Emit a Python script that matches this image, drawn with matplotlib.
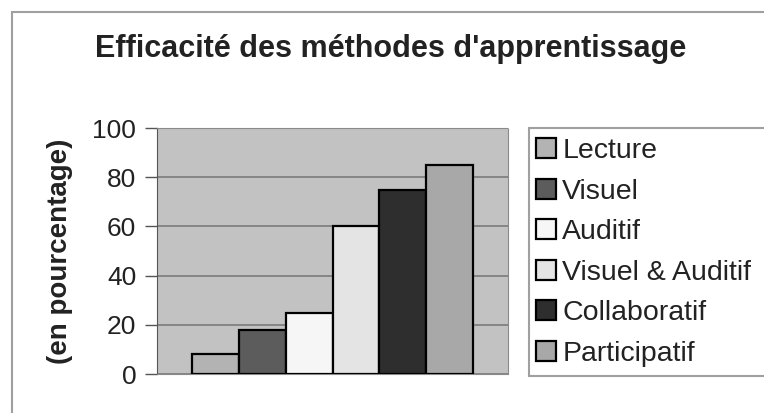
import numpy as np
import matplotlib.pyplot as plt
from matplotlib.patches import Rectangle

plt.rcParams['font.family'] = ['Liberation Sans', 'DejaVu Sans']

# data
methods = ['Lecture', 'Visuel', 'Auditif', 'Visuel & Auditif', 'Collaboratif', 'Participatif']
values = [8, 18, 25, 60, 75, 85]
yticks = [0, 20, 40, 60, 80, 100]

bar_colors = ['#b3b3b3', '#5c5c5c', '#f6f6f6', '#e4e4e4', '#2e2e2e', '#a8a8a8']

W, H = 764, 413
fig = plt.figure(figsize=(W/100, H/100), dpi=100)

# outer chart frame (runs off right and bottom)
fig.patches.append(Rectangle((12/W, -0.05), 1.0, 1 - 12/H + 0.05, transform=fig.transFigure,
                             fill=False, edgecolor='#a0a0a0', lw=1.5))

ax = fig.add_axes([157/W, 1 - 374/H, (508-157)/W, (374-128)/H])
ax.set_facecolor('#c2c2c2')

x = np.arange(len(methods))
bars = ax.bar(x, values, width=1.0, color=bar_colors, edgecolor='black', lw=1.6, zorder=3)

ax.set_xlim(-0.5 - 0.75, 5.5 + 0.75)
ax.set_ylim(0, 100)
ax.set_yticks(yticks)
ax.set_yticklabels([str(v) for v in yticks], fontsize=19, color='#222222')
ax.tick_params(axis='y', length=9, width=1, color='#555555', pad=6)
ax.set_xticks([])
ax.yaxis.grid(True, color='#7a7a7a', lw=1.2, zorder=0)
for s in ['top', 'right', 'bottom']:
    ax.spines[s].set_color('#8a8a8a')
    ax.spines[s].set_linestyle((0, (1, 1)))
ax.spines['left'].set_color('#555555')

ax.set_ylabel('(en pourcentage)', fontsize=20, fontweight='bold', color='#222222', labelpad=14)

fig.text(391/W, 1 - 57/H, "Efficacité des méthodes d'apprentissage", fontsize=22,
         fontweight='bold', color='#222222', ha='center', va='baseline')

# legend box drawn separately so it can run off the right edge
fig.patches.append(Rectangle((529/W, 1 - 376/H), 0.5, (376-128)/H, transform=fig.transFigure,
                             facecolor='white', edgecolor='#a0a0a0', lw=1.5, zorder=1))
leg = fig.legend(bars, methods, loc='upper left', bbox_to_anchor=(529/W, 1 - 131/H),
                 bbox_transform=fig.transFigure, fontsize=20.5, frameon=False,
                 handlelength=0.7, handleheight=0.7, handletextpad=0.22,
                 labelspacing=0.51, borderpad=0.25, borderaxespad=0)
leg.set_zorder(5)
for t in leg.get_texts():
    t.set_color('#222222')

fig.savefig('out.png', dpi=100)
